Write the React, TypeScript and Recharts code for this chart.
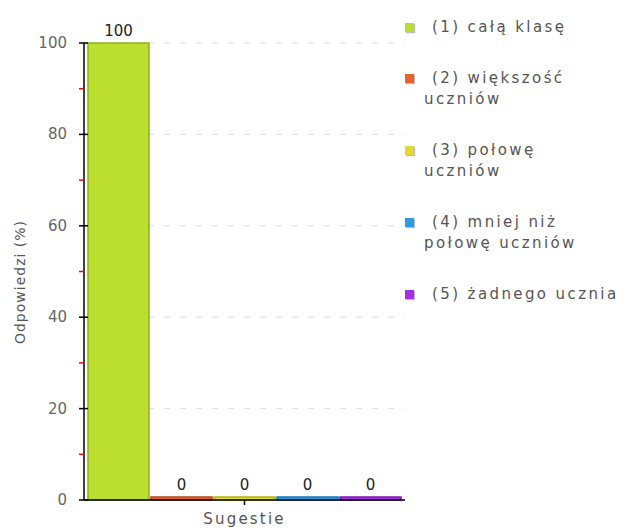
import React from "react";
import { BarChart, Bar, XAxis, YAxis, CartesianGrid, LabelList, Label } from "recharts";

const categories = ["Sugestie"];
const seriesKeys = ["s1", "s2", "s3", "s4", "s5"];
const seriesLabels = [
  "(1) całą klasę",
  "(2) większość\nuczniów",
  "(3) połowę\nuczniów",
  "(4) mniej niż\npołowę uczniów",
  "(5) żadnego ucznia",
];
const seriesValues = [100, 0, 0, 0, 0];
const yTicks = [0, 10, 20, 30, 40, 50, 60, 70, 80, 90, 100];
const gridValues = [20, 40, 60, 80, 100];

const FILLS = ["#bcdf2f", "#e3652d", "#e4d92e", "#2f9be4", "#a52fe4"];
const STROKES = ["#8fb01a", "#b4461a", "#b8ad1a", "#1a74b4", "#7a1ab4"];
const FONT = "'DejaVu Sans', sans-serif";

const data = categories.map((name) => {
  const row: Record<string, string | number> = { name };
  seriesKeys.forEach((k, i) => {
    row[k] = seriesValues[i];
  });
  return row;
});

function YTick({ x, y, payload }: any) {
  const v = payload.value;
  const major = v % 20 === 0;
  return (
    <g>
      <line x1={x - 5} x2={major ? x + 4 : x} y1={y} y2={y} stroke={major ? "#000" : "#f00"} strokeWidth={1.5} />
      {major && (
        <text x={x - 17} y={y} dy={5} textAnchor="end" fill="#666" fontSize={15} fontFamily={FONT}>
          {v}
        </text>
      )}
    </g>
  );
}

function Legend() {
  return (
    <div
      style={{
        position: "absolute",
        left: 405,
        top: 17,
        fontFamily: FONT,
        fontSize: 15,
        letterSpacing: 2.4,
        color: "#555",
        lineHeight: "21px",
      }}
    >
      {seriesLabels.map((label, i) => (
        <div key={i} style={{ position: "relative", marginBottom: 30, paddingLeft: 19 }}>
          <div
            style={{
              position: "absolute",
              left: 0,
              top: 6,
              width: 9,
              height: 9,
              background: FILLS[i],
              boxShadow: "1px 1px 1px #bbb",
            }}
          />
          <div style={{ whiteSpace: "pre-line", textIndent: 8 }}>{label}</div>
        </div>
      ))}
    </div>
  );
}

export default function App() {
  return (
    <div style={{ position: "absolute", left: 0, top: 0, width: 628, height: 530 }}>
      <BarChart
        width={628}
        height={530}
        data={data}
        margin={{ top: 43, right: 223, bottom: 0, left: 0 }}
        barCategoryGap={4}
        barGap={2}
      >
        <CartesianGrid vertical={false} horizontalValues={gridValues} stroke="#ddd" strokeDasharray="6 10" />
        <XAxis
          dataKey="name"
          height={30}
          axisLine={{ stroke: "#000", strokeWidth: 1.5 }}
          tickLine={{ stroke: "#000", strokeWidth: 1.5 }}
          tickSize={5}
          tickMargin={8}
          tick={{ fill: "#555", fontSize: 15, fontFamily: FONT, letterSpacing: 2.2 }}
        />
        <YAxis
          width={84}
          domain={[0, 100]}
          ticks={yTicks}
          interval={0}
          tickSize={0}
          tickMargin={0}
          tickLine={false}
          axisLine={{ stroke: "#000", strokeWidth: 1.5 }}
          tick={<YTick />}
        >
          <Label
            content={() => (
              <text
                transform="translate(25, 282) rotate(-90)"
                textAnchor="middle"
                fill="#555"
                fontSize={14}
                fontFamily={FONT}
                letterSpacing={1}
              >
                Odpowiedzi (%)
              </text>
            )}
          />
        </YAxis>
        {seriesKeys.map((k, i) => (
          <Bar
            key={k}
            dataKey={k}
            name={seriesLabels[i]}
            fill={FILLS[i]}
            stroke={STROKES[i]}
            strokeWidth={1.5}
            minPointSize={3}
            isAnimationActive={false}
          >
            <LabelList dataKey={k} position="top" offset={7} fill="#222" fontSize={15} fontFamily={FONT} />
          </Bar>
        ))}
      </BarChart>
      <Legend />
    </div>
  );
}
